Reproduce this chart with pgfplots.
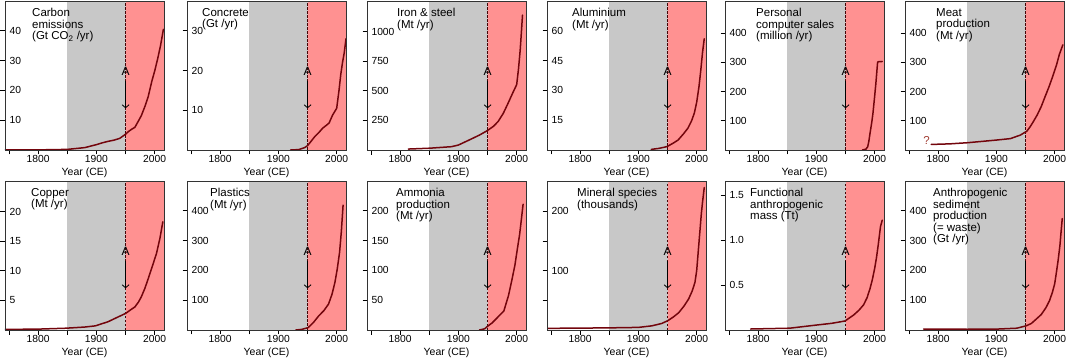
\documentclass[border=0pt]{standalone}
\usepackage{pgfplots}
\pgfplotsset{compat=1.18}
\usepackage{fontspec}
\setmainfont{Liberation Sans}
\usetikzlibrary{arrows.meta}
\definecolor{grayfill}{RGB}{200,200,200}
\definecolor{redfill}{RGB}{255,145,145}
\definecolor{curvecol}{RGB}{115,5,12}
\definecolor{qcol}{RGB}{160,60,50}

\pgfplotsset{panel/.style={
  scale only axis, width=159pt, height=149pt, anchor=north west,
  xmin=1743, xmax=2016, ymin=0,
  xtick={1750,1800,1850,1900,1950,2000}, xticklabels={,1800,,1900,,2000},
  xtick pos=bottom, ytick pos=left,
  tick align=outside, major tick length=4.5pt,
  tick style={black, line width=0.8pt},
  axis line style={black!80, line width=0.8pt},
  axis on top,
  ticklabel style={font=\fontsize{10.3}{10.3}\selectfont},
  xticklabel style={inner sep=1pt},
  yticklabel style={anchor=west, xshift=5.5pt},
  xlabel={Year (CE)},
  xlabel style={at={(axis description cs:0.5,0)}, anchor=north, inner sep=0pt, yshift=-17.5pt, font=\fontsize{10.5}{10.5}\selectfont},
  cycle list={{draw=curvecol, mark=none}},
  every axis plot post/.append style={draw=curvecol, line width=1.5pt, line join=round, line cap=round},
}}

\newcommand{\decor}{%
  \fill[grayfill] ({axis cs:1850,0}|-{rel axis cs:0,0}) rectangle ({axis cs:1950,0}|-{rel axis cs:0,1});
  \fill[redfill] ({axis cs:1950,0}|-{rel axis cs:0,0}) rectangle ({rel axis cs:1,1});
  \draw[curvecol!60!black, line width=0.7pt, dash pattern=on 2.5pt off 1.5pt] ({axis cs:1950,0}|-{rel axis cs:0,0}) -- ({axis cs:1950,0}|-{rel axis cs:0,1});
  \node[font=\fontsize{12}{12}\selectfont, inner sep=0pt, fill=none] at ({axis cs:1950,0}|-{rel axis cs:0,0.525}) {A};
  \draw[black, line width=0.8pt, -{Straight Barb[length=3pt, width=7pt]}] ({axis cs:1950,0}|-{rel axis cs:0,0.46}) -- ({axis cs:1950,0}|-{rel axis cs:0,0.28});
}
\newcommand{\lab}[2]{\node[anchor=north west, align=left, inner sep=0pt, font=\fontsize{11.5}{11.5}\selectfont] at (rel axis cs:0,1) [xshift=#1pt, yshift=-7pt] {#2};}

\begin{document}
\begin{tikzpicture}
\path[use as bounding box] (0,0) rectangle (1072pt,-364pt);

% ---------- top row ----------
\begin{axis}[panel, at={(5pt,-1pt)}, ymax=50, ytick={10,20,30,40}, yticklabels={10,20,30,40}]
\decor
\addplot coordinates {(1743,0.02)(1800,0.04)(1850,0.2)(1880,0.8)(1900,1.8)(1910,2.4)(1920,2.9)(1930,3.3)(1940,3.9)(1950,5.3)(1955,6.2)(1960,6.9)(1966,7.6)(1970,9)(1977,11.5)(1983,14.5)(1989,18)(1995,23)(2000,26.5)(2005,30.5)(2010,35)(2015,40.5)};
\lab{27}{Carbon\\emissions\\(Gt CO\textsubscript{2} /yr)}
\end{axis}

\begin{axis}[panel, at={(187pt,-1pt)}, ymax=37.5, ytick={10,20,30}, yticklabels={10,20,30}]
\decor
\addplot coordinates {(1921,0)(1935,0.1)(1945,0.6)(1950,1.1)(1955,2)(1962,3.3)(1970,4.5)(1976,5.5)(1983,6.3)(1987,6.8)(1993,8.8)(1998,10)(2000,10.5)(2004,15)(2007,19)(2010,22)(2013,24.5)(2016,28)};
\lab{15}{Concrete\\(Gt /yr)}
\end{axis}

\begin{axis}[panel, at={(367pt,-1pt)}, ymax=1260, ytick={250,500,750,1000}, yticklabels={250,500,750,1000}]
\decor
\addplot coordinates {(1814,8)(1850,15)(1888,28)(1900,42)(1916,79)(1936,126)(1950,165)(1960,200)(1968,240)(1977,310)(1985,393)(1993,480)(2000,553)(2003,680)(2006,843)(2008,990)(2010,1140)};
\lab{30}{Iron \& steel\\(Mt /yr)}
\end{axis}

\begin{axis}[panel, at={(547pt,-1pt)}, ymax=75, ytick={15,30,45,60}, yticklabels={15,30,45,60}]
\decor
\addplot coordinates {(1922,0.3)(1935,0.8)(1949,1.7)(1960,3.5)(1968,5)(1977,8)(1985,11)(1991,14.5)(1996,18.6)(2000,24)(2004,32)(2007,40)(2010,49)(2013,56)};
\lab{25}{Aluminium\\(Mt /yr)}
\end{axis}

\begin{axis}[panel, at={(725pt,-1pt)}, ymax=510, ytick={100,200,300,400}, yticklabels={100,200,300,400}]
\decor
\addplot coordinates {(1979,0)(1985,3)(1988,11)(1990,30)(1992,57)(1995,95)(1997,125)(2000,185)(2002,227)(2005,300)(2006,302)(2013,303)};
\lab{31}{Personal\\computer sales\\(million /yr)}
\end{axis}

\begin{axis}[panel, at={(905pt,-1pt)}, ymax=510, ytick={100,200,300,400}, yticklabels={100,200,300,400}]
\decor
\addplot coordinates {(1788,19)(1820,21)(1851,25)(1900,34)(1924,39)(1941,51)(1952,64)(1958,80)(1963,96)(1970,120)(1977,149)(1983,180)(1990,215)(1997,254)(2003,290)(2008,327)(2014,360)};
\node[qcol, font=\fontsize{11.5}{11.5}\selectfont] at (axis cs:1780,32) {?};
\lab{31}{Meat\\production\\(Mt /yr)}
\end{axis}

% ---------- bottom row ----------
\begin{axis}[panel, at={(5pt,-181pt)}, ymax=25.2, ytick={5,10,15,20}, yticklabels={5,10,15,20}]
\decor
\addplot coordinates {(1743,0.1)(1800,0.15)(1847,0.3)(1880,0.5)(1898,0.7)(1920,1.4)(1937,2.2)(1950,2.8)(1960,3.5)(1966,3.9)(1972,4.7)(1977,5.6)(1983,7)(1989,8.7)(1996,10.8)(2003,12.9)(2009,15.5)(2014,18.3)};
\lab{26}{Copper\\(Mt /yr)}
\end{axis}

\begin{axis}[panel, at={(187pt,-181pt)}, ymax=500, ytick={100,200,300,400}, yticklabels={100,200,300,400}]
\decor
\addplot coordinates {(1930,0)(1940,2)(1951,8)(1960,25)(1969,47)(1978,65)(1986,87)(1992,120)(1997,160)(2001,205)(2005,261)(2008,330)(2011,419)};
\lab{23}{Plastics\\(Mt /yr)}
\end{axis}

\begin{axis}[panel, at={(367pt,-181pt)}, ymax=250, ytick={50,100,150,200}, yticklabels={50,100,150,200}]
\decor
\addplot coordinates {(1936,0)(1945,2)(1951,7)(1958,12)(1964,18)(1971,25)(1978,32)(1982,45)(1986,58)(1992,85)(1997,109)(2001,135)(2005,160)(2008,185)(2011,211)};
\lab{29}{Ammonia\\production\\(Mt /yr)}
\end{axis}

\begin{axis}[panel, at={(547pt,-181pt)}, ymax=251, ytick={50,100,150,200}, yticklabels={,100,,200}]
\decor
\addplot coordinates {(1743,2.8)(1800,3.2)(1850,3.6)(1900,4.4)(1923,7)(1940,11)(1950,15.5)(1960,22)(1969,29)(1978,40)(1986,52)(1992,65)(1997,80)(2000,100)(2002,124)(2005,160)(2008,196)(2010,215)(2013,240)};
\lab{30}{Mineral species\\(thousands)}
\end{axis}

\begin{axis}[panel, at={(725pt,-181pt)}, ymax=1.655, ytick={0.5,1,1.5}, yticklabels={0.5,1.0,1.5}]
\decor
\addplot coordinates {(1787,0.011)(1854,0.02)(1900,0.055)(1926,0.074)(1949,0.1)(1964,0.167)(1973,0.22)(1981,0.28)(1987,0.36)(1992,0.46)(1996,0.56)(2000,0.685)(2003,0.8)(2006,0.94)(2010,1.15)(2013,1.22)};
\lab{25}{Functional\\anthropogenic\\mass (Tt)}
\end{axis}

\begin{axis}[panel, at={(905pt,-181pt)}, ymax=500, ytick={100,200,300,400}, yticklabels={100,200,300,400}]
\decor
\addplot coordinates {(1775,3)(1850,2.5)(1900,3)(1935,6)(1951,14)(1960,22)(1968,36)(1977,52)(1985,75)(1991,98)(1996,126)(2000,155)(2003,194)(2006,235)(2009,284)(2011,330)(2013,374)};
\lab{28}{Anthropogenic\\sediment\\production\\(= waste)\\(Gt /yr)}
\end{axis}
\end{tikzpicture}
\end{document}
